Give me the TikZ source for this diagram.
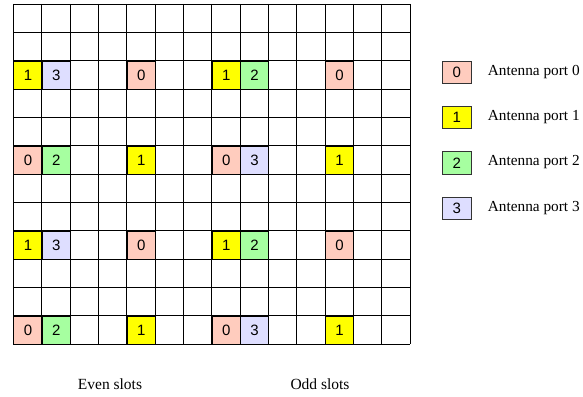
\documentclass[tikz,border=0pt]{standalone}
\usepackage{fontspec}
\setmainfont{Liberation Serif}
\newfontfamily\digitfont{Liberation Sans}
\definecolor{portzero}{RGB}{255,204,190}
\definecolor{portone}{RGB}{255,255,0}
\definecolor{porttwo}{RGB}{166,255,160}
\definecolor{portthree}{RGB}{222,222,255}
\tikzset{
  gridline/.style={draw=black, line width=0.9pt},
  cell/.style={fill=#1, draw=black, line width=0.9pt, minimum width=28.33pt, minimum height=28.33pt,
    inner sep=0pt, anchor=north west, font=\digitfont\fontsize{15}{15}\selectfont},
  legbox/.style={fill=#1, draw=black!80, line width=0.8pt, minimum width=28.4pt, minimum height=22.3pt,
    inner sep=0pt, anchor=north west, font=\digitfont\fontsize{15}{15}\selectfont},
  legtext/.style={anchor=west, inner sep=0pt, font=\fontsize{15.3}{15.3}\selectfont},
  slotlabel/.style={inner sep=0pt, font=\fontsize{15.5}{15.5}\selectfont}
}
\begin{document}
\begin{tikzpicture}[x=1pt,y=-1pt]
\useasboundingbox (0,0) rectangle (583,396);
% colored resource elements
\foreach \r/\c/\p/\col in {
  2/0/1/portone, 2/1/3/portthree, 2/4/0/portzero, 2/7/1/portone, 2/8/2/porttwo, 2/11/0/portzero,
  5/0/0/portzero, 5/1/2/porttwo, 5/4/1/portone, 5/7/0/portzero, 5/8/3/portthree, 5/11/1/portone,
  8/0/1/portone, 8/1/3/portthree, 8/4/0/portzero, 8/7/1/portone, 8/8/2/porttwo, 8/11/0/portzero,
  11/0/0/portzero, 11/1/2/porttwo, 11/4/1/portone, 11/7/0/portzero, 11/8/3/portthree, 11/11/1/portone}
  \node[cell=\col] (re\r-\c) at ({13.33+28.33*\c},{4+28.33*\r}) {\p};
% grid
\foreach \i in {0,...,14}
  \draw[gridline] ({13.33+28.33*\i},4) -- ({13.33+28.33*\i},{4+28.33*12});
\foreach \j in {0,...,12}
  \draw[gridline] (13.33,{4+28.33*\j}) -- ({13.33+28.33*14},{4+28.33*\j});
% legend
\foreach \k/\col in {0/portzero,1/portone,2/porttwo,3/portthree}{
  \node[legbox=\col] (lb\k) at (442.3,{60.7+45.3*\k}) {\k};
  \node[legtext] (lt\k) at (487.7,{71.8+45.3*\k}) {Antenna port \k};
}
% slot labels
\node[slotlabel] (even) at (110,384) {Even slots};
\node[slotlabel] (odd) at (320,384) {Odd slots};
\end{tikzpicture}
\end{document}
